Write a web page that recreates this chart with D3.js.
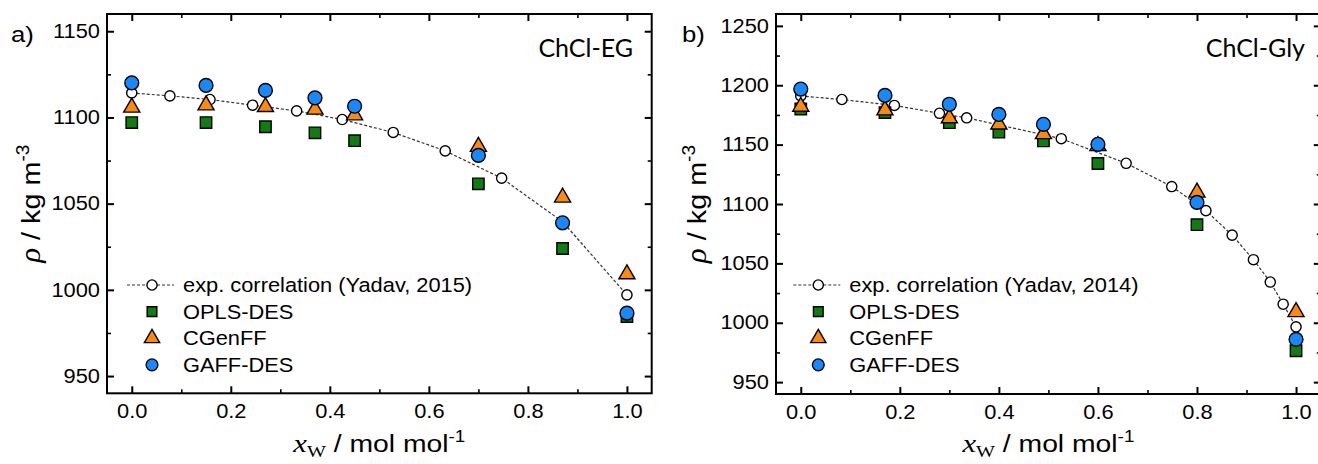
<!DOCTYPE html>
<html>
<head>
<meta charset="utf-8">
<script src="https://cdn.jsdelivr.net/npm/d3@7"></script>
<style>
  body { margin: 0; background: #ffffff; }
  text { font-family: 'Liberation Sans', Arial, sans-serif; fill: #000; }
</style>
</head>
<body>
<div id="chart"></div>
<script>
// panel a) ChCl-EG
var xSimA = [0.0, 0.15, 0.27, 0.37, 0.45, 0.70, 0.87, 1.0];
var oplsA = [1097, 1097, 1094.6, 1091.1, 1086.5, 1061.5, 1024, 984.5];
var cgenA = [1105.8, 1107.1, 1106.1, 1104.6, 1101.3, 1083, 1053.6, 1009.1];
var gaffA = [1120, 1118.6, 1115.7, 1111.3, 1106.5, 1078, 1038.9, 986.5];
var xExpA = [0.0, 0.077, 0.158, 0.244, 0.333, 0.425, 0.528, 0.633, 0.747, 0.87, 1.0];
var expA = [1114.2, 1112.5, 1110.4, 1107.1, 1103.8, 1098.8, 1091.3, 1080.6, 1064.8, 1039.5, 997.1];

// panel b) ChCl-Gly
var xSimB = [0.0, 0.17, 0.30, 0.40, 0.49, 0.60, 0.80, 1.0];
var oplsB = [1180, 1177, 1168.5, 1160.5, 1153.1, 1134.1, 1082.6, 976.4];
var cgenB = [1182, 1179, 1172.3, 1167.1, 1159, 1149, 1109.7, 1009.1];
var gaffB = [1196.8, 1191.4, 1184, 1175.4, 1167.1, 1150.3, 1101.4, 986];
var xExpB = [0.0, 0.083, 0.189, 0.28, 0.335, 0.526, 0.657, 0.749, 0.818, 0.871, 0.914, 0.948, 0.974, 1.0];
var expB = [1191, 1188, 1183, 1176.4, 1172.6, 1155, 1134.3, 1114.7, 1094.4, 1073.8, 1053.1, 1034.3, 1015.6, 996.6];

// ticks
var xTicks = [0, 0.2, 0.4, 0.6, 0.8, 1.0];
var xMinor = [0.1, 0.3, 0.5, 0.7, 0.9];
var yTicksA = [950, 1000, 1050, 1100, 1150];
var yMinorA = [975, 1025, 1075, 1125];
var yTicksB = [950, 1000, 1050, 1100, 1150, 1200, 1250];
var yMinorB = [975, 1025, 1075, 1125, 1175, 1225];

var seriesNames = ["OPLS-DES", "CGenFF", "GAFF-DES"];
var expNameA = "exp. correlation (Yadav, 2015)";
var expNameB = "exp. correlation (Yadav, 2014)";

var green = "#0f7d10", orange = "#ff8a0a", blue = "#1689ff";
var stretch = 1.12; // text in the source is rendered a bit wide

var svg = d3.select("#chart")
    .append("svg")
    .attr("width", 1318)
    .attr("height", 464);

var sym = {
    square: d3.symbol().type(d3.symbolSquare).size(130),
    triangle: d3.symbol().type(d3.symbolTriangle).size(112),
    circle: d3.symbol().type(d3.symbolCircle).size(150),
    open: d3.symbol().type(d3.symbolCircle).size(82)
};

function wideText(g, x, y, sx, anchor) {
    return g.append("text")
        .attr("transform", "translate(" + x + "," + y + ") scale(" + sx + ",1)")
        .attr("text-anchor", anchor);
}

function drawMarker(g, kind, fill, cx, cy, k) {
    g.append("path")
        .attr("d", sym[kind])
        .attr("transform", "translate(" + cx + "," + cy + ") scale(" + (k || 1) + ")")
        .style("fill", fill)
        .style("stroke", "#000")
        .style("stroke-width", 1.4 / (k || 1));
}

function drawPanel(cfg) {
    var x = d3.scaleLinear().domain([-0.05, 1.05]).range([cfg.left, cfg.right]);
    var y = d3.scaleLinear().domain(cfg.yDomain).range([cfg.bottom, cfg.top]);
    var g = svg.append("g");

    // axes, ticks pointing inward on all four sides
    function styleAxis(sel, major) {
        sel.select(".domain").remove();
        sel.selectAll("line").style("stroke", "#000").style("stroke-width", major ? 2 : 1.6);
        sel.selectAll("text").style("font-size", "19.5px").style("fill", "#000")
            .style("font-family", "'Liberation Sans', Arial, sans-serif");
    }
    var bottom = g.append("g").attr("transform", "translate(0," + cfg.bottom + ")")
        .call(d3.axisBottom(x).tickValues(xTicks).tickSize(-7).tickPadding(11).tickFormat(d3.format(".1f")))
        .call(styleAxis, true);
    bottom.selectAll("text").attr("transform", "scale(" + stretch + ",1)");
    g.append("g").attr("transform", "translate(0," + cfg.bottom + ")")
        .call(d3.axisBottom(x).tickValues(xMinor).tickSize(-4).tickFormat(""))
        .call(styleAxis, false);
    g.append("g").attr("transform", "translate(0," + cfg.top + ")")
        .call(d3.axisTop(x).tickValues(xTicks).tickSize(-7).tickFormat(""))
        .call(styleAxis, true);
    g.append("g").attr("transform", "translate(0," + cfg.top + ")")
        .call(d3.axisTop(x).tickValues(xMinor).tickSize(-4).tickFormat(""))
        .call(styleAxis, false);

    var left = g.append("g").attr("transform", "translate(" + cfg.left + ",0)")
        .call(d3.axisLeft(y).tickValues(cfg.yTicks).tickSize(-7).tickPadding(7).tickFormat(d3.format("d")))
        .call(styleAxis, true);
    left.selectAll("text").attr("transform", "scale(" + stretch + ",1)").attr("x", -7 / stretch);
    g.append("g").attr("transform", "translate(" + cfg.left + ",0)")
        .call(d3.axisLeft(y).tickValues(cfg.yMinor).tickSize(-4).tickFormat(""))
        .call(styleAxis, false);
    g.append("g").attr("transform", "translate(" + cfg.right + ",0)")
        .call(d3.axisRight(y).tickValues(cfg.yTicks).tickSize(-7).tickFormat(""))
        .call(styleAxis, true);
    g.append("g").attr("transform", "translate(" + cfg.right + ",0)")
        .call(d3.axisRight(y).tickValues(cfg.yMinor).tickSize(-4).tickFormat(""))
        .call(styleAxis, false);

    g.append("rect")
        .attr("x", cfg.left).attr("y", cfg.top)
        .attr("width", cfg.right - cfg.left).attr("height", cfg.bottom - cfg.top)
        .style("fill", "none").style("stroke", "#000").style("stroke-width", 2);

    // experimental correlation: dashed line + open circles
    var expPts = cfg.xExp.map(function (v, i) { return [v, cfg.exp[i]]; });
    var line = d3.line()
        .x(function (d) { return x(d[0]); })
        .y(function (d) { return y(d[1]); });
    g.append("path")
        .datum(expPts)
        .attr("d", line)
        .style("fill", "none")
        .style("stroke", "#333")
        .style("stroke-width", 1.2)
        .style("stroke-dasharray", "3,2");
    expPts.forEach(function (d) {
        drawMarker(g, "open", "#fff", x(d[0]), y(d[1]));
    });

    // simulations
    cfg.xSim.forEach(function (v, i) { drawMarker(g, "square", green, x(v), y(cfg.opls[i])); });
    cfg.xSim.forEach(function (v, i) { drawMarker(g, "triangle", orange, x(v), y(cfg.cgen[i])); });
    cfg.xSim.forEach(function (v, i) { drawMarker(g, "circle", blue, x(v), y(cfg.gaff[i])); });

    // legend
    var lx = cfg.legendX, ly = cfg.legendY, dy = 26.6;
    g.append("line")
        .attr("x1", lx - 25).attr("x2", lx + 22).attr("y1", ly).attr("y2", ly)
        .style("stroke", "#333").style("stroke-width", 1.2).style("stroke-dasharray", "3,2");
    drawMarker(g, "open", "#fff", lx, ly);
    drawMarker(g, "square", green, lx, ly + dy, 0.85);
    drawMarker(g, "triangle", orange, lx, ly + 2 * dy, 0.95);
    drawMarker(g, "circle", blue, lx, ly + 3 * dy, 0.85);
    var names = [cfg.expName].concat(seriesNames);
    names.forEach(function (n, i) {
        wideText(g, lx + 31, ly + i * dy + 7, stretch, "start")
            .style("font-size", "19.5px")
            .text(n);
    });

    // panel tag and system name
    wideText(g, cfg.tagX, 42, stretch, "start").style("font-size", "23px").text(cfg.tag);
    g.append("text")
        .attr("x", cfg.nameX).attr("y", 57)
        .attr("text-anchor", "end")
        .style("font-family", "Lato, 'Open Sans', sans-serif")
        .style("font-size", "25px")
        .text(cfg.name);

    // x title
    var cx = (cfg.left + cfg.right) / 2;
    var xt = wideText(g, cx, 452, 1.18, "middle").style("font-size", "24px");
    xt.append("tspan").style("font-family", "'Liberation Serif', 'Times New Roman', serif")
        .style("font-style", "italic").style("font-size", "26px").text("x");
    xt.append("tspan").style("font-family", "'Liberation Serif', 'Times New Roman', serif")
        .style("font-size", "17px").attr("dy", 5).text("W");
    xt.append("tspan").attr("dy", -5).text(" / mol mol");
    xt.append("tspan").style("font-size", "16px").attr("dy", -10).text("-1");

    // y title
    var cy = (cfg.top + cfg.bottom) / 2;
    var yt = g.append("text")
        .attr("transform", "translate(" + cfg.yTitleX + "," + cy + ") rotate(-90) scale(1.2,1.1)")
        .attr("text-anchor", "middle")
        .style("font-size", "24px");
    yt.append("tspan").style("font-family", "'Liberation Serif', 'Times New Roman', serif")
        .style("font-style", "italic").style("font-size", "26px").text("\u03c1");
    yt.append("tspan").text(" / kg m");
    yt.append("tspan").style("font-size", "16px").attr("dy", -10).text("-3");
}

drawPanel({
    left: 107, right: 651.7, top: 14, bottom: 393.3,
    yDomain: [940, 1160], yTicks: yTicksA, yMinor: yMinorA,
    xSim: xSimA, opls: oplsA, cgen: cgenA, gaff: gaffA,
    xExp: xExpA, exp: expA, expName: expNameA,
    legendX: 152, legendY: 285,
    tag: "a)", tagX: 11, name: "ChCl-EG", nameX: 633, yTitleX: 40
});

drawPanel({
    left: 776, right: 1320.8, top: 14, bottom: 394,
    yDomain: [940, 1260], yTicks: yTicksB, yMinor: yMinorB,
    xSim: xSimB, opls: oplsB, cgen: cgenB, gaff: gaffB,
    xExp: xExpB, exp: expB, expName: expNameB,
    legendX: 818.3, legendY: 285,
    tag: "b)", tagX: 682, name: "ChCl-Gly", nameX: 1305, yTitleX: 706
});
</script>
</body>
</html>
